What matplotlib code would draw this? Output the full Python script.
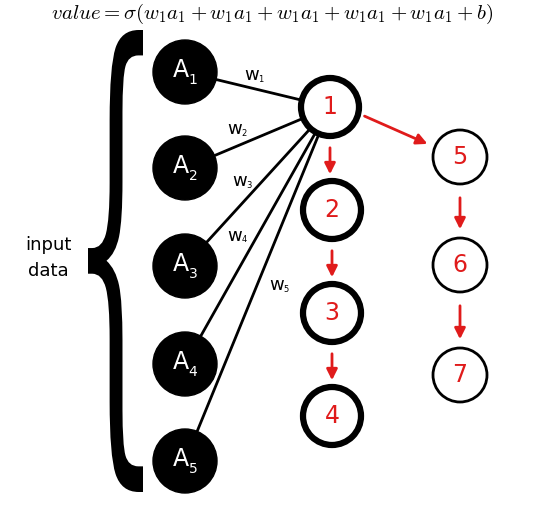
import matplotlib.pyplot as plt
from matplotlib.patches import Circle, PathPatch, FancyArrowPatch
from matplotlib.textpath import TextPath
from matplotlib.font_manager import FontProperties
from matplotlib.transforms import Affine2D

# node layout (pixel coordinates of the reference)
input_x = 185
input_y = [72, 168, 266, 364, 461]
input_labels = ['1', '2', '3', '4', '5']
chain_nodes = {'1': (330, 107), '2': (332, 210), '3': (332, 313), '4': (332, 416),
               '5': (460, 157), '6': (460, 265), '7': (460, 375)}
thick_nodes = ['1', '2', '3', '4']
arrows = [('1', '2'), ('2', '3'), ('3', '4'), ('1', '5'), ('5', '6'), ('6', '7')]
weight_pos = [(255, 75), (238, 129), (243, 181), (238, 236), (280, 285)]

fig = plt.figure(figsize=(5.44, 5.16), dpi=100)
ax = fig.add_axes([0, 0, 1, 1])
ax.set_xlim(0, 544)
ax.set_ylim(516, 0)
ax.axis('off')

red = '#e01b1b'

# lines from inputs to node 1
x1, y1 = chain_nodes['1']
for y in input_y:
    ax.plot([input_x, x1], [y, y1], color='black', lw=2, zorder=1)

for i, y in enumerate(input_y):
    ax.add_patch(Circle((input_x, y), 32, color='black', zorder=2))
    ax.text(input_x - 4, y - 2, 'A', color='white', fontsize=17,
            ha='center', va='center', zorder=3)
    ax.text(input_x + 8, y + 8, input_labels[i], color='white', fontsize=10,
            ha='center', va='center', zorder=3)

for i, (wx, wy) in enumerate(weight_pos):
    ax.text(wx - 3, wy, 'w', fontsize=13, ha='center', va='center')
    ax.text(wx + 6, wy + 4, str(i + 1), fontsize=6, ha='center', va='center')

for name, (x, y) in chain_nodes.items():
    thick = name in thick_nodes
    ax.add_patch(Circle((x, y), 29 if thick else 27, facecolor='white', edgecolor='black',
                        lw=4.5 if thick else 2, zorder=2))
    ax.text(x, y, name, color=red, fontsize=17, ha='center', va='center', zorder=3)

for a, b in arrows:
    xa, ya = chain_nodes[a]
    xb, yb = chain_nodes[b]
    if abs(xa - xb) < 5:
        p0, p1 = (xa, ya + 38), (xa, yb - 33)
    else:
        p0, p1 = (xa + 32, ya + 8), (xb - 30, yb - 12)
    ax.add_patch(FancyArrowPatch(p0, p1, arrowstyle='-|>', mutation_scale=16,
                                 color=red, lw=2, zorder=3))

# big brace
tp = TextPath((0, 0), '{', prop=FontProperties(family='DejaVu Serif'), size=10)
ext = tp.get_extents()
x0b, x1b, y0b, y1b = 88, 143, 30, 492
tr = (Affine2D().translate(-ext.x0, -ext.y1)
      .scale((x1b - x0b) / ext.width, -(y1b - y0b) / ext.height)
      .translate(x0b, y0b))
ax.add_patch(PathPatch(tr.transform_path(tp), color='black', lw=0))

ax.text(48, 258, 'input\ndata', fontsize=13, ha='center', va='center', linespacing=1.5)

ax.text(272, 14, r'$value = \sigma(w_1a_1 + w_1a_1 + w_1a_1 + w_1a_1 + w_1a_1 + b)$',
        fontsize=15, ha='center', va='center', math_fontfamily='cm')

fig.savefig('out.png', dpi=100)
